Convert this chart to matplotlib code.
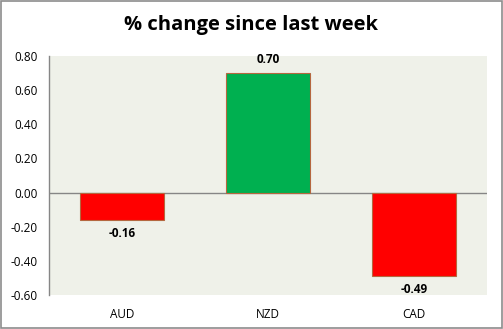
import matplotlib.pyplot as plt
from matplotlib.patches import Rectangle

currencies = ["AUD", "NZD", "CAD"]
changes = [-0.16, 0.70, -0.49]
bar_colors = ["#FF0000", "#00B050", "#FF0000"]
yticks = [-0.60, -0.40, -0.20, 0.00, 0.20, 0.40, 0.60, 0.80]

plt.rcParams["font.family"] = ["Open Sans", "DejaVu Sans"]

W, H = 503, 329
fig = plt.figure(figsize=(W / 100, H / 100), dpi=100)
# plot area in pixels: x 49..487, y 56..295
ax = fig.add_axes([49 / W, 1 - 295 / H, (487 - 49) / W, (295 - 56) / H])
ax.set_facecolor("#EFF1E9")

x = range(len(currencies))
ax.bar(x, changes, width=0.575, color=bar_colors, edgecolor="#B5673F", linewidth=0.8, zorder=3)
ax.axhline(0, color="#868686", linewidth=1, zorder=2)

for i, v in enumerate(changes):
    if v >= 0:
        ax.annotate(f"{v:.2f}", (i, v), xytext=(0, 5), textcoords="offset points",
                    ha="center", va="bottom", fontsize=8.5, fontweight="bold")
    else:
        ax.annotate(f"{v:.2f}", (i, v), xytext=(0, -5), textcoords="offset points",
                    ha="center", va="top", fontsize=8.5, fontweight="bold")

ax.set_xlim(-0.5, 2.5)
ax.set_ylim(-0.60, 0.80)
ax.set_yticks(yticks)
ax.set_yticklabels([f"{t:.2f}" for t in yticks], fontsize=8.5)
ax.set_xticks(list(x))
ax.set_xticklabels(currencies, fontsize=8.5)
ax.tick_params(axis="x", length=0, pad=9)
ax.tick_params(axis="y", length=0, pad=8)
for s in ["top", "right", "bottom"]:
    ax.spines[s].set_visible(False)
ax.spines["left"].set_color("#868686")
ax.spines["left"].set_linewidth(1)

fig.text(0.5, 1 - 25 / H, "% change since last week", ha="center", va="center",
         fontsize=14.5, fontweight="bold")

fig.patches.append(Rectangle((0.001, 0.002), 0.997, 0.995, transform=fig.transFigure,
                             fill=False, edgecolor="#8C8C8C", linewidth=1.2))

fig.savefig("out.png", dpi=100)
